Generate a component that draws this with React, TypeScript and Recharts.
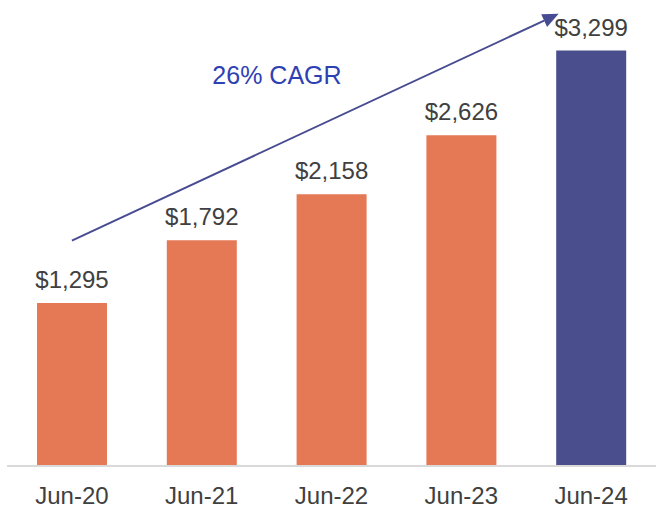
import React from "react";
import { ComposedChart, Bar, XAxis, YAxis, Cell, LabelList, ReferenceLine, ReferenceDot } from "recharts";

const categories = ["Jun-20", "Jun-21", "Jun-22", "Jun-23", "Jun-24"];
const values = [1295, 1792, 2158, 2626, 3299];
const barColors = ["#E57855", "#E57855", "#E57855", "#E57855", "#4A4E8C"];
const arrowStart = { x: 0, y: 1790 };
const arrowEnd = { x: 3.75, y: 3590 };
const cagrText = "26% CAGR";
const cagrPos = { x: 1.58, y: 3100 };

const data = categories.map((c, i) => ({ name: c, value: values[i], idx: i }));

const fmt = (v: number) => "$" + v.toLocaleString("en-US");

const ArrowShape = (props: any) => {
  const { x1, y1, x2, y2 } = props;
  const ang = Math.atan2(y2 - y1, x2 - x1);
  const len = 16;
  const w = 7;
  const bx = x2 - len * Math.cos(ang);
  const by = y2 - len * Math.sin(ang);
  const px = -Math.sin(ang) * w;
  const py = Math.cos(ang) * w;
  return (
    <g>
      <line x1={x1} y1={y1} x2={bx} y2={by} stroke="#474C92" strokeWidth={2} />
      <polygon points={`${x2},${y2} ${bx + px},${by + py} ${bx - px},${by - py}`} fill="#474C92" />
    </g>
  );
};

export default function App() {
  return (
    <div style={{ position: "absolute", left: 0, top: 0, width: 656, height: 511, background: "#fff" }}>
      <ComposedChart
        width={656}
        height={511}
        data={data}
        margin={{ top: 0, right: 0, bottom: 0, left: 7 }}
        style={{ fontFamily: "Liberation Sans, Arial, sans-serif" }}
      >
        <XAxis
          dataKey="name"
          xAxisId="cat"
          height={45}
          tickLine={false}
          axisLine={{ stroke: "#D9D9D9", strokeWidth: 2 }}
          tick={{ fill: "#404040", fontSize: 24 }}
          tickMargin={15}
          interval={0}
        />
        <XAxis
          xAxisId="num"
          dataKey="idx"
          type="number"
          domain={[-0.5, 4.5]}
          allowDataOverflow={true}
          hide
          height={0}
        />
        <YAxis hide domain={[0, 3700]} allowDataOverflow={true} />
        <Bar dataKey="value" xAxisId="cat" barSize={70} isAnimationActive={false}>
          {data.map((d, i) => (
            <Cell key={i} fill={barColors[i]} />
          ))}
          <LabelList
            dataKey="value"
            position="top"
            offset={15}
            formatter={(v: any) => fmt(Number(v))}
            style={{ fill: "#404040", fontSize: 24 }}
          />
        </Bar>
        <ReferenceLine
          xAxisId="num"
          segment={[arrowStart, arrowEnd]}
          ifOverflow="visible"
          shape={ArrowShape}
        />
        <ReferenceDot
          xAxisId="num"
          x={cagrPos.x}
          y={cagrPos.y}
          r={0}
          ifOverflow="visible"
          label={{ value: cagrText, position: "center", fill: "#2E41B3", fontSize: 25 }}
        />
      </ComposedChart>
    </div>
  );
}
